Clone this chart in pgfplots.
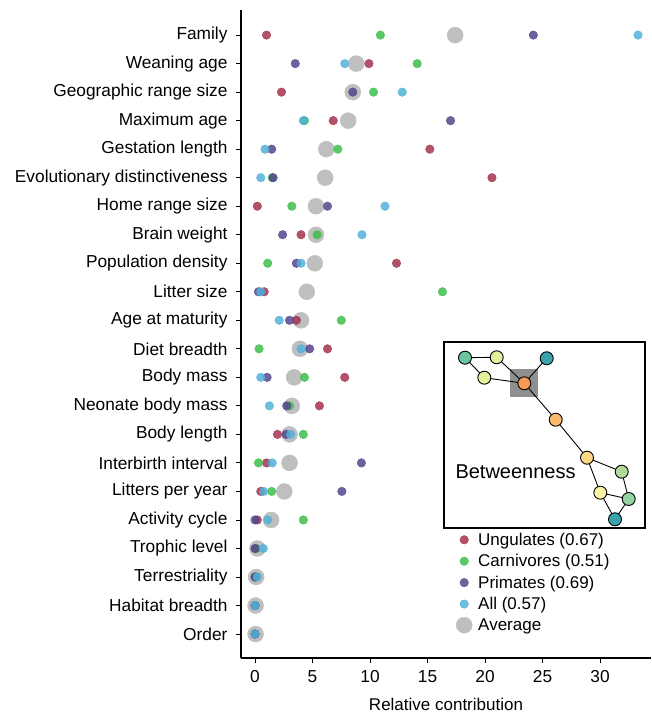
\documentclass[border=0pt]{standalone}
\usepackage{fontspec}
\setmainfont{Liberation Sans}
\usepackage{pgfplots}
\usepackage{pgfplotstable}
\pgfplotsset{compat=1.18}

\definecolor{ung}{HTML}{A5344E}
\definecolor{carn}{HTML}{3DBE4B}
\definecolor{prim}{HTML}{54468D}
\definecolor{allc}{HTML}{52B1D9}
\definecolor{avgc}{HTML}{BFBFBF}

% idx: 0 = Order (bottom) ... 21 = Family (top)
\pgfplotstableread{
idx avg  ung  carn prim  all
21  17.4 1.0  10.9 24.2  33.3
20  8.8  9.9  14.1 3.5   7.8
19  8.5  2.3  10.3 8.5   12.8
18  8.1  6.8  4.3  17.0  4.2
17  6.2  15.2 7.2  1.45  0.87
16  6.1  20.6 1.5  1.57  0.5
15  5.3  0.2  3.2  6.3   11.3
14  5.3  4.0  5.4  2.4   9.3
13  5.2  12.3 1.1  3.6   4.0
12  4.5  0.8  16.3 0.3   0.5
11  4.0  3.6  7.5  3.0   2.1
10  3.9  6.3  0.35 4.75  4.0
9   3.4  7.8  4.3  1.05  0.5
8   3.2  5.6  3.0  2.75  1.25
7   3.0  1.95 4.2  2.7   3.1
6   3.0  1.0  0.3  9.25  1.5
5   2.55 0.5  1.45 7.55  0.75
4   1.4  0.2  4.2  0.0   1.1
3   0.2  0.05 0.1  0.0   0.72
2   0.1  0.05 0.05 0.0   0.2
1   0.05 0.0  0.0  0.0   0.0
0   0.05 0.0  0.0  0.0   0.0
}\contrib

\begin{document}
\begin{tikzpicture}[font=\fontsize{17}{20}\selectfont]
\path[use as bounding box] (-241pt,-56pt) rectangle (410pt,658pt);
\begin{axis}[
  at={(0pt,0pt)}, anchor=south west,
  scale only axis,
  width=410pt, height=648pt,
  xmin=-1.22, xmax=34.43,
  ymin=-0.84, ymax=21.88,
  axis lines=left,
  axis line style={-, line width=1.1pt},
  xtick={0,5,...,30},
  ytick={0,...,21},
  yticklabels={Order,Habitat breadth,Terrestriality,Trophic level,Activity cycle,Litters per year,Interbirth interval,Body length,Neonate body mass,Body mass,Diet breadth,Age at maturity,Litter size,Population density,Brain weight,Home range size,Evolutionary distinctiveness,Gestation length,Maximum age,Geographic range size,Weaning age,Family},
  tick align=outside,
  major tick length=5pt,
  tick style={line width=0.9pt, black},
  /pgf/number format/assume math mode=true,
  ticklabel style={font=\fontsize{17.3}{20}\selectfont},
  xticklabel shift=4pt,
  yticklabel shift=5pt,
  xlabel={Relative contribution},
  xlabel style={font=\fontsize{17}{20}\selectfont, yshift=-9pt},
  clip=false,
  legend style={at={(0.522,0.198)}, anchor=north west, draw=none, fill=none,
    font=\fontsize{17}{20}\selectfont, row sep=3.6pt, column sep=4pt, inner sep=1pt},
  legend cell align=left,
]
\addlegendimage{only marks, mark=*, mark size=4.3pt, ung, opacity=0.85}
\addlegendentry{Ungulates (0.67)}
\addlegendimage{only marks, mark=*, mark size=4.3pt, carn, opacity=0.85}
\addlegendentry{Carnivores (0.51)}
\addlegendimage{only marks, mark=*, mark size=4.3pt, prim, opacity=0.85}
\addlegendentry{Primates (0.69)}
\addlegendimage{only marks, mark=*, mark size=4.3pt, allc, opacity=0.85}
\addlegendentry{All (0.57)}
\addlegendimage{only marks, mark=*, mark size=8pt, avgc}
\addlegendentry{Average}

\addplot[only marks, mark=*, mark size=8pt, avgc, forget plot] table[x=avg, y=idx] {\contrib};
\addplot[only marks, mark=*, mark size=4.3pt, ung, opacity=0.85, forget plot] table[x=ung, y=idx] {\contrib};
\addplot[only marks, mark=*, mark size=4.3pt, carn, opacity=0.85, forget plot] table[x=carn, y=idx] {\contrib};
\addplot[only marks, mark=*, mark size=4.3pt, prim, opacity=0.85, forget plot] table[x=prim, y=idx] {\contrib};
\addplot[only marks, mark=*, mark size=4.3pt, allc, opacity=0.85, forget plot] table[x=all, y=idx] {\contrib};
\end{axis}

% inset: betweenness network, coordinates in picture pixels (y negated)
\begin{axis}[
  at={(203pt,130pt)}, anchor=south west,
  scale only axis,
  width=201pt, height=186pt,
  xmin=444, xmax=645, ymin=-528, ymax=-342,
  xtick=\empty, ytick=\empty,
  axis line style={line width=1.6pt},
  clip=false,
  unbounded coords=jump,
]
\addplot[draw=none, fill={rgb,255:red,143;green,143;blue,143}] coordinates {(510.3,-369.3) (538.3,-369.3) (538.3,-397.3) (510.3,-397.3)} -- cycle;
\addplot[black, line width=0.9pt] coordinates {
  (484.3,-377.7) (465,-357.7) (496.7,-357.3) (524.3,-383.3) (484.3,-377.7) (nan,nan)
  (546.7,-358.3) (524.3,-383.3) (555.7,-419.7) (587,-457.7) (621.7,-471.7)
  (628.7,-499) (615,-519.3) (600.3,-492.7) (587,-457.7) (nan,nan)
  (600.3,-492.7) (628.7,-499)
};
\pgfplotsset{nd/.style={only marks, mark=*, mark size=6.5pt, mark options={draw=black, line width=0.9pt, fill=#1}}}
\definecolor{n1}{HTML}{6CC5A0}
\definecolor{n2}{HTML}{E2F29C}
\definecolor{n3}{HTML}{3BA3AC}
\definecolor{n5}{HTML}{F79A55}
\definecolor{n6}{HTML}{FDB96A}
\definecolor{n7}{HTML}{FCD985}
\definecolor{n8}{HTML}{AEDC98}
\definecolor{n9}{HTML}{FDF2A6}
\definecolor{n10}{HTML}{92D3A0}
\addplot[nd=n1] coordinates {(465,-357.7)};
\addplot[nd=n2] coordinates {(496.7,-357.3) (484.3,-377.7)};
\addplot[nd=n3] coordinates {(546.7,-358.3) (615,-519.3)};
\addplot[nd=n5] coordinates {(524.3,-383.3)};
\addplot[nd=n6] coordinates {(555.7,-419.7)};
\addplot[nd=n7] coordinates {(587,-457.7)};
\addplot[nd=n8] coordinates {(621.7,-471.7)};
\addplot[nd=n9] coordinates {(600.3,-492.7)};
\addplot[nd=n10] coordinates {(628.7,-499)};
\node[anchor=west, font=\fontsize{20}{24}\selectfont] at (axis cs:452,-471.5) {Betweenness};
\end{axis}
\end{tikzpicture}
\end{document}
